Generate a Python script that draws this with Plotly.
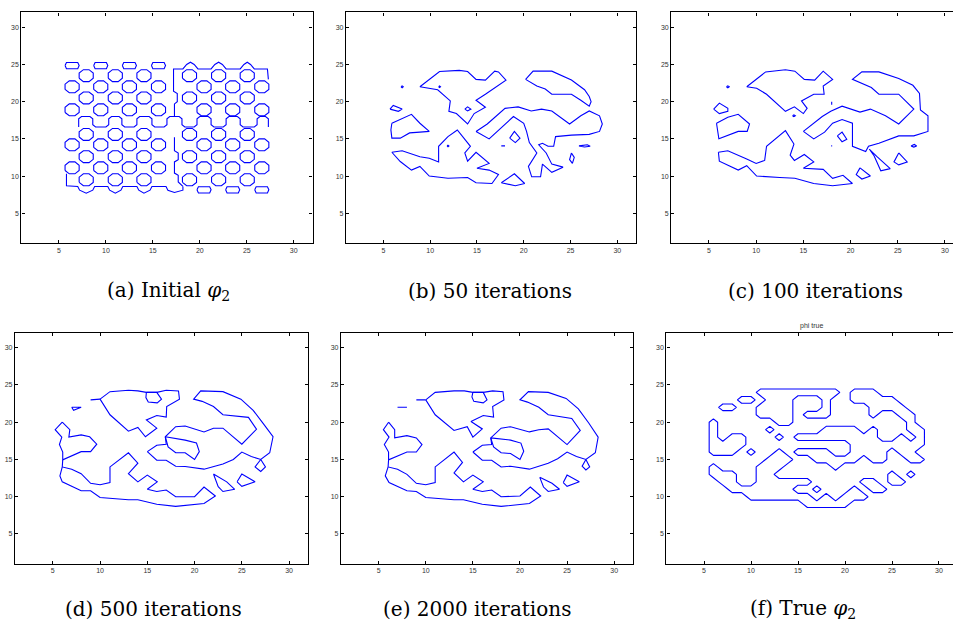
import plotly.graph_objects as go

BLUE = "rgb(0,0,255)"
TICKS = [5, 10, 15, 20, 25, 30]

# ---------------- (a) initial phi_2: lattice of holes ----------------
# hole centres (x, y) on the two staggered lattices
A_HOLE_X = [7.9, 11.0, 14.05, 18.9, 22.0, 25.05,
            6.4, 9.45, 12.5, 15.6, 20.45, 23.5, 26.6,
            7.9, 11.0, 14.05, 18.9, 22.0, 25.05,
            6.4, 9.45, 12.5, 15.6, 20.45, 23.5, 26.6,
            7.9, 11.0, 14.05, 18.9, 22.0, 25.05,
            6.4, 9.45, 12.5, 15.6, 20.45, 23.5, 26.6,
            7.9, 11.0, 14.05, 18.9, 22.0, 25.05,
            6.4, 9.45, 12.5, 15.6, 20.45, 23.5, 26.6,
            7.9, 11.0, 14.05, 18.9, 22.0, 25.05]
A_HOLE_Y = [23.5] * 6 + [22.0] * 7 + [20.5] * 6 + [18.9] * 7 + \
           [15.6] * 6 + [14.2] * 7 + [12.6] * 6 + [11.1] * 7 + [9.5] * 6
# flattened holes along the top and bottom rows
A_FLAT_X = [6.4, 9.45, 12.5, 15.6, 20.45, 23.5, 26.6]
A_FLAT_Y = [24.85, 24.85, 24.85, 24.85, 8.15, 8.15, 8.15]
# outline of one hole relative to its centre
OCT_DX = [-0.75, -0.75, -0.3, 0.3, 0.75, 0.75, 0.3, -0.3, -0.75]
OCT_DY = [-0.35, 0.35, 0.8, 0.8, 0.35, -0.35, -0.8, -0.8, -0.35]
FLAT_DX = [-0.75, -0.6, 0.6, 0.75, 0.6, -0.6, -0.75]
FLAT_DY = [0.0, 0.42, 0.42, 0.0, -0.42, -0.42, 0.0]

A_CHAINS = [
    # serpentine seam across the middle
    [(7.1, 16.6), (7.1, 17.7), (7.4, 18.0), (8.3, 18.0), (8.6, 17.7), (8.6, 16.9), (8.9, 16.6),
     (10.0, 16.6), (10.3, 16.9), (10.3, 17.7), (10.6, 18.0), (11.4, 18.0), (11.7, 17.7), (11.7, 16.9),
     (12.0, 16.6), (13.0, 16.6), (13.3, 16.9), (13.3, 17.7), (13.6, 18.0), (14.6, 18.0), (14.9, 17.7),
     (14.9, 16.9), (15.2, 16.6), (16.2, 16.6), (16.5, 16.9), (16.5, 17.7), (16.8, 18.0), (17.8, 18.0),
     (18.1, 17.7), (18.1, 16.9), (18.4, 16.6), (19.4, 16.6), (19.7, 16.9), (19.7, 17.7), (20.0, 18.0),
     (20.9, 18.0), (21.2, 17.7), (21.2, 16.9), (21.5, 16.6), (22.5, 16.6), (22.8, 16.9), (22.8, 17.7),
     (23.1, 18.0), (24.0, 18.0), (24.3, 17.7), (24.3, 16.9), (24.6, 16.6), (25.8, 16.6), (26.1, 16.9),
     (26.1, 17.7), (26.4, 18.0), (27.0, 18.0), (27.3, 17.7), (27.3, 16.6)],
    # top-right boundary with humps
    [(17.2, 22.9), (17.2, 24.4), (18.2, 24.4), (18.6, 25.0), (19.0, 25.3), (19.4, 25.0), (19.8, 24.4),
     (21.2, 24.4), (21.6, 25.0), (22.0, 25.3), (22.4, 25.0), (22.8, 24.4), (24.3, 24.4), (24.7, 25.0),
     (25.05, 25.3), (25.4, 25.0), (25.8, 24.4), (27.2, 24.4), (27.3, 23.0)],
    # vertical seam between the two lattices
    [(17.2, 22.9), (17.2, 21.4), (17.6, 21.1), (17.6, 20.0), (17.3, 19.7), (17.3, 18.0)],
    [(17.3, 15.2), (17.3, 13.4), (17.7, 13.1), (17.7, 12.2), (17.3, 11.9), (17.3, 10.4),
     (17.7, 10.1), (17.7, 9.2), (18.2, 8.6)],
    # bottom-left boundary with dips
    [(5.8, 10.3), (5.8, 8.7), (7.0, 8.6), (7.2, 8.1), (7.9, 7.7), (8.6, 8.1), (8.8, 8.6),
     (10.2, 8.6), (10.4, 8.1), (11.0, 7.7), (11.6, 8.1), (11.8, 8.6), (13.3, 8.6), (13.5, 8.1),
     (14.05, 7.7), (14.7, 8.1), (14.9, 8.6), (16.4, 8.6), (16.6, 8.1), (17.3, 7.8), (18.2, 8.1),
     (18.2, 8.6)],
]

# ---------------- (b) 50 iterations ----------------
B_CURVES = [
    [(8.9, 22.0), (11.0, 24.05), (13.1, 24.2), (14.0, 24.05), (14.9, 23.0), (15.9, 22.9), (16.9, 24.1),
     (17.3, 24.0), (18.1, 22.9), (17.0, 21.9), (15.9, 21.0), (14.9, 20.2), (15.9, 19.25), (14.7, 18.4),
     (14.0, 17.0), (12.8, 18.4), (12.0, 18.7), (12.15, 20.1), (10.8, 21.6), (8.9, 22.0)],
    [(13.7, 19.0), (14.0, 19.3), (14.35, 19.0), (14.0, 18.75), (13.7, 19.0)],
    [(14.9, 16.0), (16.1, 17.0), (18.0, 19.1), (19.4, 19.3), (20.8, 18.75), (21.9, 19.0), (23.0, 18.75),
     (24.9, 17.0), (26.1, 18.1), (27.0, 18.75), (28.1, 18.1), (28.4, 17.0), (28.1, 16.0), (27.0, 15.6),
     (25.1, 15.5), (23.4, 15.3), (23.2, 14.0), (22.6, 14.0), (22.0, 14.4), (21.6, 14.2), (22.4, 13.1),
     (23.0, 11.6), (24.2, 11.2), (23.0, 10.5), (22.0, 11.6), (21.8, 9.9), (20.85, 9.9), (20.5, 11.3),
     (21.4, 13.1), (20.6, 14.5), (20.3, 16.0), (20.0, 17.1), (18.9, 18.0), (16.3, 15.0), (14.9, 16.0)],
    [(20.2, 23.0), (21.0, 24.1), (23.0, 24.1), (25.1, 22.9), (26.5, 21.6), (27.0, 20.7), (27.2, 20.0),
     (27.0, 19.4), (26.1, 20.2), (25.1, 21.0), (23.0, 21.0), (22.3, 21.7), (21.4, 22.1), (20.2, 23.0)],
    [(18.5, 15.1), (19.0, 16.0), (19.6, 15.1), (19.1, 14.5), (18.5, 15.1)],
    [(17.6, 14.05), (18.0, 14.05)],
    [(6.88, 22.0), (7.0, 22.12), (7.12, 22.0), (7.0, 21.88), (6.88, 22.0)],
    [(10.9, 22.0), (11.0, 22.1), (11.1, 22.0), (11.0, 21.9), (10.9, 22.0)],
    [(11.8, 14.05), (11.9, 14.15), (12.0, 14.05), (11.9, 13.95), (11.8, 14.05)],
    [(25.9, 14.05), (26.8, 14.2), (27.1, 14.0), (26.5, 13.9), (25.9, 14.05)],
    [(25.1, 13.1), (24.9, 12.2), (25.2, 11.7), (25.4, 12.5), (25.1, 13.1)],
    [(17.6, 9.1), (19.0, 10.3), (20.1, 9.0), (19.1, 8.7), (17.6, 9.1)],
    [(5.7, 19.0), (6.05, 19.5), (7.0, 19.0), (6.6, 18.7), (5.7, 19.0)],
    [(5.9, 17.1), (8.0, 18.3), (8.9, 17.1), (9.9, 16.0), (8.9, 15.9), (7.8, 15.8), (6.8, 15.1),
     (5.9, 15.1), (5.8, 16.2), (5.9, 17.1)],
    [(5.9, 13.2), (7.0, 13.4), (8.9, 12.6), (9.9, 12.4), (10.9, 11.9), (10.9, 14.0), (11.9, 15.3),
     (12.9, 16.2), (14.3, 14.0), (13.7, 13.1), (14.0, 12.0), (14.9, 13.2), (16.3, 11.7), (15.0, 11.05),
     (16.3, 10.8), (17.3, 10.2), (16.6, 9.0), (14.9, 9.1), (14.0, 9.8), (11.9, 9.7), (9.9, 10.0),
     (8.9, 11.3), (8.0, 10.8), (6.8, 11.95), (5.9, 13.2)],
]

# ---------------- (c) 100 iterations ----------------
C_CURVES = [
    [(9.0, 22.0), (10.05, 21.8), (11.1, 21.0), (12.0, 20.0), (13.1, 18.7), (14.05, 19.3), (15.0, 18.4),
     (15.4, 19.1), (14.8, 20.1), (16.1, 21.0), (17.2, 21.0), (17.1, 22.1), (18.1, 23.0), (17.1, 24.1),
     (16.2, 22.9), (15.1, 23.0), (14.1, 24.1), (13.1, 24.3), (11.0, 24.0), (9.0, 22.0)],
    [(5.5, 19.0), (6.1, 19.8), (7.0, 19.1), (7.0, 18.7), (6.1, 18.4), (5.5, 19.0)],
    [(5.8, 17.1), (7.0, 17.9), (8.1, 18.3), (9.3, 17.0), (9.05, 16.0), (8.1, 16.0), (6.05, 15.0), (5.8, 17.1)],
    [(15.0, 16.0), (16.1, 17.1), (17.0, 18.0), (17.9, 18.7), (19.1, 19.4), (21.0, 18.6), (22.1, 19.0),
     (23.7, 18.1), (25.1, 17.0), (26.7, 19.0), (25.1, 21.0), (23.0, 21.0), (22.2, 21.9), (20.2, 23.0),
     (21.2, 24.0), (23.0, 24.0), (25.1, 23.1), (26.6, 22.2), (27.3, 21.1), (27.4, 18.9), (28.2, 18.1),
     (28.2, 16.0), (26.7, 15.4), (25.1, 15.4), (23.0, 14.4), (21.9, 14.0), (21.6, 13.3), (20.2, 14.0),
     (20.2, 17.1), (19.1, 17.6), (18.1, 17.1), (17.25, 15.9), (16.1, 15.0), (15.0, 16.0)],
    [(22.0, 13.6), (22.5, 12.7), (23.2, 10.7), (24.2, 11.0), (22.8, 12.6), (22.0, 13.6)],
    [(18.6, 15.4), (19.1, 15.9), (19.6, 14.95), (19.1, 14.6), (18.6, 15.4)],
    [(13.85, 18.1), (14.0, 18.22), (14.15, 18.1), (14.0, 17.98), (13.85, 18.1)],
    [(6.85, 22.0), (7.0, 22.13), (7.15, 22.0), (7.0, 21.87), (6.85, 22.0)],
    [(17.95, 14.05), (18.0, 14.1), (18.05, 14.05), (18.0, 14.0), (17.95, 14.05)],
    [(18.0, 19.6), (18.0, 20.0)],
    [(26.4, 14.05), (26.75, 14.25), (27.0, 14.05), (26.7, 13.9), (26.4, 14.05)],
    [(25.1, 13.1), (26.0, 11.9), (25.1, 11.5), (24.6, 11.9), (25.1, 13.1)],
    [(21.0, 11.1), (22.1, 10.0), (21.2, 9.6), (20.6, 10.2), (21.0, 11.1)],
    [(6.0, 13.2), (7.0, 13.4), (9.0, 12.3), (10.0, 11.7), (10.9, 12.1), (11.1, 14.0), (13.1, 16.1),
     (14.0, 14.3), (13.6, 12.8), (14.05, 12.1), (15.1, 12.9), (16.1, 11.9), (15.0, 11.05), (17.1, 10.9),
     (18.1, 9.7), (19.2, 10.1), (20.2, 9.0), (18.1, 8.7), (16.1, 9.0), (14.1, 9.7), (12.5, 9.8),
     (10.05, 10.0), (9.0, 11.4), (8.1, 10.8), (6.1, 12.0), (6.0, 13.2)],
]

# ---------------- (d) 500 iterations ----------------
D_CURVES = [
    [(9.0, 23.0), (10.0, 23.1)],
    [(10.0, 23.1), (11.05, 24.1), (13.0, 24.3), (14.0, 24.2), (14.9, 24.0), (16.0, 24.0), (17.0, 24.3),
     (18.3, 24.2), (18.4, 23.1), (17.05, 22.1), (17.0, 20.7), (16.0, 20.9), (14.9, 20.3), (16.0, 19.2),
     (14.8, 18.05), (14.0, 19.3), (13.0, 18.8), (11.05, 21.0), (10.0, 23.1)],
    [(14.9, 24.0), (16.0, 24.0), (16.5, 23.1), (16.05, 22.6), (15.1, 22.7), (14.85, 23.3), (14.9, 24.0)],
    [(7.0, 22.0), (8.0, 22.0), (7.2, 21.6), (7.0, 22.0)],
    [(6.0, 20.0), (5.25, 19.0), (5.95, 18.0), (5.7, 17.0), (6.05, 16.0), (6.05, 14.95), (8.0, 16.05),
     (9.0, 16.05), (9.65, 17.05), (8.9, 18.05), (8.0, 18.3), (6.7, 18.0), (6.8, 19.0), (6.0, 20.0)],
    [(6.05, 14.95), (6.0, 14.0), (7.0, 13.7), (8.0, 13.1), (9.0, 11.8), (10.0, 11.6), (11.05, 11.9),
     (11.05, 14.0), (13.0, 15.9), (14.0, 14.5), (13.0, 13.1), (14.0, 12.0), (15.0, 12.9), (16.05, 12.0),
     (15.0, 11.0), (16.0, 10.7), (17.0, 10.9), (18.0, 10.0), (20.0, 10.0), (21.0, 11.3), (22.2, 10.1),
     (21.0, 9.1), (18.0, 8.7), (16.0, 9.0), (14.0, 9.6), (13.0, 9.6), (10.0, 9.9), (9.0, 10.8),
     (8.0, 10.8), (6.0, 12.0), (5.75, 12.8), (6.0, 14.0)],
    [(15.0, 16.05), (16.0, 16.9), (17.0, 17.05), (16.9, 18.05), (18.0, 19.4), (19.0, 19.5), (21.0, 18.7),
     (22.0, 19.2), (23.0, 19.2), (25.0, 17.05), (26.55, 19.05), (25.7, 20.65), (23.0, 21.0), (22.0, 22.1),
     (20.8, 22.8), (19.9, 23.1), (20.65, 24.2), (21.9, 24.2), (23.0, 24.1), (24.9, 23.1), (26.2, 21.6),
     (27.25, 19.85), (28.3, 18.05), (27.95, 15.9), (27.0, 15.0), (26.0, 15.4), (25.0, 16.0), (24.1, 15.0),
     (23.0, 14.4), (21.0, 13.7), (19.0, 14.05), (18.0, 14.1), (17.0, 14.9), (16.0, 14.9), (15.0, 16.05)],
    [(16.9, 18.05), (19.0, 17.6), (20.2, 17.2), (20.5, 16.05), (20.0, 15.0), (19.0, 15.9), (18.0, 15.9),
     (17.2, 16.7), (16.9, 18.05)],
    [(27.0, 15.0), (27.5, 14.0), (27.0, 13.4), (26.4, 14.0), (27.0, 15.0)],
    [(22.0, 13.05), (22.5, 11.35), (23.0, 10.7), (24.25, 11.0), (23.4, 12.0), (22.0, 13.05)],
    [(24.5, 12.0), (25.0, 13.05), (26.4, 12.0), (25.0, 11.4), (24.5, 12.0)],
]

# ---------------- (e) 2000 iterations ----------------
E_CURVES = [
    [(9.0, 23.0), (10.0, 23.0)],
    [(10.0, 23.0), (11.0, 24.0), (13.0, 24.2), (14.1, 24.2), (15.0, 24.0), (16.1, 24.0), (17.1, 24.2),
     (18.2, 24.1), (18.3, 23.0), (17.1, 22.1), (17.2, 20.7), (16.1, 20.9), (14.8, 20.1), (16.0, 19.1),
     (15.0, 18.0), (14.4, 19.4), (13.0, 18.9), (11.0, 21.0), (10.0, 23.0)],
    [(15.0, 24.0), (16.1, 24.0), (16.5, 23.0), (16.1, 22.6), (15.1, 22.8), (14.9, 23.4), (15.0, 24.0)],
    [(7.0, 22.0), (8.0, 22.0), (7.2, 21.9), (7.0, 22.0)],
    [(6.05, 20.0), (5.5, 19.0), (6.1, 18.0), (5.6, 17.0), (6.05, 16.0), (6.05, 14.95), (8.0, 16.0),
     (9.0, 16.0), (9.6, 17.0), (9.0, 17.9), (8.0, 18.2), (6.7, 17.9), (6.7, 19.0), (6.05, 20.0)],
    [(6.05, 14.95), (6.0, 14.0), (7.0, 13.7), (8.0, 13.0), (9.0, 11.8), (10.0, 11.6), (11.0, 11.9),
     (11.0, 14.0), (13.0, 16.0), (13.9, 14.6), (13.0, 13.2), (14.0, 12.0), (15.0, 12.9), (16.1, 12.0),
     (15.0, 11.0), (16.0, 10.7), (17.0, 10.9), (18.0, 10.0), (20.0, 10.1), (21.1, 11.3), (22.2, 10.1),
     (21.0, 9.1), (18.0, 8.7), (16.0, 9.0), (14.0, 9.6), (13.0, 9.6), (10.0, 9.9), (9.0, 10.7),
     (8.0, 10.8), (6.1, 11.9), (5.7, 12.8), (6.0, 14.0)],
    [(15.0, 16.0), (16.0, 16.9), (17.0, 17.0), (16.9, 17.9), (18.0, 19.2), (19.0, 19.4), (21.0, 18.7),
     (22.0, 19.0), (23.0, 19.1), (25.0, 17.0), (26.4, 18.9), (25.5, 20.5), (23.0, 21.0), (22.0, 22.0),
     (20.8, 22.7), (20.0, 23.0), (20.9, 24.1), (22.0, 24.1), (23.0, 24.0), (24.9, 23.2), (26.2, 21.8),
     (27.3, 19.9), (28.3, 18.0), (28.0, 15.9), (27.0, 15.0), (26.0, 15.4), (25.0, 16.0), (24.0, 15.1),
     (23.0, 14.5), (21.0, 13.7), (19.0, 14.1), (18.0, 14.0), (17.0, 14.9), (16.0, 14.9), (15.0, 16.0)],
    [(16.9, 17.9), (19.0, 17.6), (20.1, 17.2), (20.4, 16.1), (20.0, 15.0), (19.0, 15.8), (18.0, 15.9),
     (17.2, 16.7), (16.9, 17.9)],
    [(27.0, 15.0), (27.4, 14.0), (27.0, 13.6), (26.6, 14.1), (27.0, 15.0)],
    [(22.1, 12.6), (22.5, 11.3), (23.0, 10.7), (24.2, 11.0), (23.4, 11.8), (22.1, 12.6)],
    [(24.6, 11.9), (25.0, 12.9), (26.3, 12.0), (25.0, 11.4), (24.6, 11.9)],
]

# ---------------- (f) true phi_2 on the pixel grid ----------------
F_X = list(range(4, 31))          # columns x = 4 .. 30
F_Y = list(range(26, 6, -1))      # rows y = 26 .. 7 (top to bottom)
F_ROWS = [
    "...........................",
    "...........................",
    ".......#########.###.......",
    ".....##.###...#..#####.....",
    "...##..####...#....####....",
    ".......####.###....#..##...",
    "..#......##............#...",
    "..#.....#.....####.#...##..",
    "..#.##...#.#########..#.#..",
    "..####...........########..",
    "..###.#..#.####..####.##...",
    "........###..#####.##..##..",
    "..#....###.....#...........",
    "..###..##............#.#...",
    "...##..######.....##.##....",
    "....#######..#...#.##......",
    "......#######.#.###........",
    "............#####..........",
    "...........................",
    "...........................",
]

CAPTIONS = ["(a) Initial <i>φ</i><sub>2</sub>", "(b) 50 iterations", "(c) 100 iterations",
            "(d) 500 iterations", "(e) 2000 iterations", "(f) True <i>φ</i><sub>2</sub>"]


def flatten(curves):
    xs, ys = [], []
    for c in curves:
        for x, y in c:
            xs.append(x)
            ys.append(y)
        xs.append(None)
        ys.append(None)
    return xs, ys


def rings(cx, cy, dx, dy):
    return [[(x + a, y + b) for a, b in zip(dx, dy)] for x, y in zip(cx, cy)]


W, H = 953, 623
fig = go.Figure()

panel_a = rings(A_HOLE_X, A_HOLE_Y, OCT_DX, OCT_DY) + rings(A_FLAT_X, A_FLAT_Y, FLAT_DX, FLAT_DY) + A_CHAINS
for i, curves in enumerate([panel_a, B_CURVES, C_CURVES, D_CURVES, E_CURVES]):
    xs, ys = flatten(curves)
    sfx = "" if i == 0 else str(i + 1)
    fig.add_trace(go.Scatter(x=xs, y=ys, mode="lines", line=dict(color=BLUE, width=1.1),
                             xaxis="x" + sfx, yaxis="y" + sfx, hoverinfo="skip", showlegend=False))

z = [[1 if ch == "#" else 0 for ch in row] for row in F_ROWS[::-1]]
fig.add_trace(go.Contour(x=F_X, y=F_Y[::-1], z=z, xaxis="x6", yaxis="y6",
                         contours=dict(start=0.55, end=0.55, size=1, coloring="lines", showlabels=False),
                         line=dict(width=1.1, smoothing=0),
                         colorscale=[[0, BLUE], [1, BLUE]], showscale=False, hoverinfo="skip"))

# axes boxes in pixels: (left, right, top, bottom, x_max, right_border)
BOXES = [
    (21.4, 312.5, 12.4, 243.0, 32.0, True),
    (346.0, 636.0, 12.4, 243.0, 32.0, True),
    (671.2, 953.0, 12.4, 243.0, 30.85, False),
    (15.0, 308.0, 332.8, 563.8, 32.0, True),
    (341.0, 633.0, 332.8, 563.8, 32.0, True),
    (666.4, 953.0, 332.8, 563.8, 31.49, False),
]

tickfont = dict(family="Liberation Sans, Arial, sans-serif", size=7, color="#333333")
layout = dict(width=W, height=H, margin=dict(l=0, r=0, t=0, b=0),
              paper_bgcolor="white", plot_bgcolor="white", showlegend=False, hovermode=False)
for i, (l, r, t, b, xmax, rb) in enumerate(BOXES):
    sfx = "" if i == 0 else str(i + 1)
    common = dict(showgrid=False, zeroline=False, showline=True, linecolor="black", linewidth=1.2,
                  ticks="inside", ticklen=3, tickwidth=1, tickcolor="black", tickvals=TICKS,
                  tickfont=tickfont, fixedrange=True)
    layout["xaxis" + sfx] = dict(domain=[l / W, min(r / W, 1.0)], range=[1, xmax], anchor="y" + sfx,
                                 mirror="ticks", **common)
    layout["yaxis" + sfx] = dict(domain=[1 - b / H, 1 - t / H], range=[1, 32], anchor="x" + sfx,
                                 mirror="ticks" if rb else False, **common)

cap_pos = [(168, 291), (490, 291), (815, 291), (153, 609), (477, 609), (803, 609)]
annotations = []
for text, (px, py) in zip(CAPTIONS, cap_pos):
    annotations.append(dict(text=text, x=px / W, y=1 - py / H, xref="paper", yref="paper",
                            showarrow=False, xanchor="center", yanchor="middle",
                            font=dict(family="DejaVu Serif, serif", size=20, color="black")))
annotations.append(dict(text="phi true", x=811 / W, y=1 - 326 / H, xref="paper", yref="paper",
                        showarrow=False, xanchor="center", yanchor="middle",
                        font=dict(family="Liberation Sans, Arial, sans-serif", size=7, color="#333333")))
layout["annotations"] = annotations
fig.update_layout(**layout)

fig.write_html("out.html")
